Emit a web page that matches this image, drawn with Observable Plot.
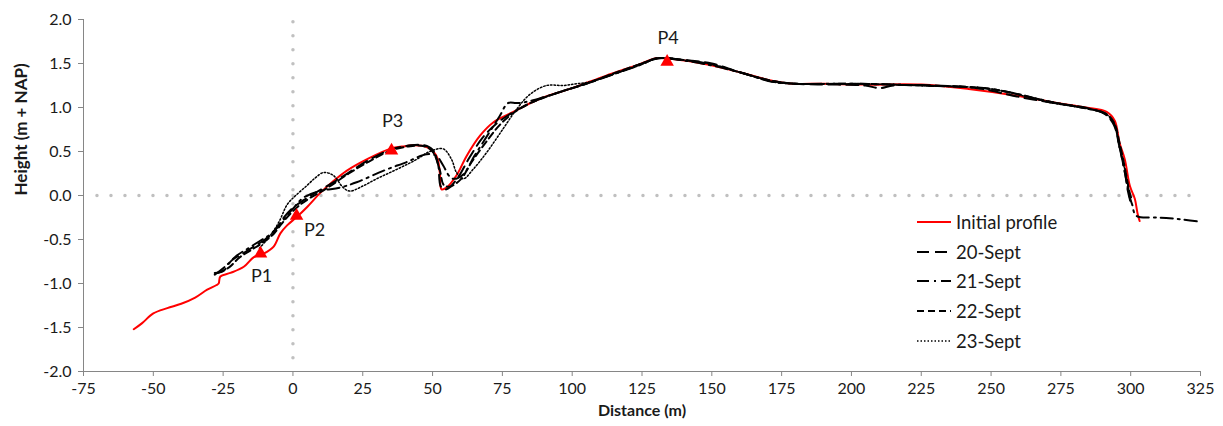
<!DOCTYPE html>
<html>
<head>
<meta charset="utf-8">
<script src="https://cdn.jsdelivr.net/npm/d3@7"></script>
<script src="https://cdn.jsdelivr.net/npm/@observablehq/plot@0.6"></script>
<style>
  html, body { margin: 0; padding: 0; background: #fff; }
  #chart { position: relative; width: 1223px; height: 426px; font-family: Lato, "Open Sans", sans-serif; }
  #legend { position: absolute; left: 916px; top: 207px; font-size: 18.5px; color: #1a1a1a; }
  #legend .row { display: flex; align-items: center; height: 29.8px; }
  #legend svg { margin-right: 4px; }
</style>
</head>
<body>
<div id="chart"><div id="legend"></div></div>
<script>
// Beach cross-shore profiles: distance (m) vs. height (m + NAP)
const initialDist = [-57, -54, -50, -45, -40, -35, -30.7, -27.5, -26.6, -26, -22.4, -17.6, -14, -10.5, -6.9, -4.5, -2.1, 1.5, 5.1, 9.8, 14, 19.2, 26.4, 34.7, 40, 43.1, 47.9, 51.4, 52.6, 53.2, 55, 58.6, 62.2, 67, 71.7, 78.9, 88.4, 100, 112, 124, 130, 136, 148, 160, 172, 179, 190, 205, 225, 242, 260, 272, 284, 291.4, 294.3, 296, 297.9, 299.7, 301.5, 302.5, 303.2];
const initialHeight = [-1.52, -1.45, -1.34, -1.28, -1.23, -1.16, -1.07, -1.02, -1.0, -0.92, -0.88, -0.81, -0.70, -0.66, -0.58, -0.43, -0.34, -0.24, -0.13, 0.03, 0.15, 0.28, 0.41, 0.53, 0.56, 0.57, 0.55, 0.45, 0.26, 0.07, 0.09, 0.23, 0.45, 0.68, 0.83, 0.95, 1.10, 1.22, 1.36, 1.49, 1.56, 1.55, 1.49, 1.40, 1.30, 1.27, 1.27, 1.26, 1.26, 1.21, 1.13, 1.06, 1.0, 0.95, 0.85, 0.6, 0.41, 0.11, -0.04, -0.21, -0.29];

const sept20Dist = [-28, -25, -22, -18, -14, -10, -6, -3, 0, 4, 8, 14, 20, 27, 35, 42, 47, 50, 52, 53, 55, 59, 63, 68, 73, 78, 85, 95, 105, 115, 125, 131, 140, 150, 160, 172, 180, 195, 205, 210, 215, 230, 245, 260, 275, 285, 291, 294, 296, 298, 299, 300];
const sept20Height = [-0.88, -0.86, -0.74, -0.66, -0.58, -0.50, -0.38, -0.24, -0.14, -0.05, 0.03, 0.14, 0.26, 0.40, 0.52, 0.57, 0.57, 0.52, 0.35, 0.10, 0.07, 0.20, 0.42, 0.66, 0.82, 0.93, 1.05, 1.17, 1.27, 1.38, 1.50, 1.56, 1.54, 1.50, 1.40, 1.30, 1.27, 1.26, 1.25, 1.22, 1.25, 1.25, 1.22, 1.12, 1.04, 0.99, 0.92, 0.80, 0.55, 0.25, 0.05, -0.08];

const sept21Dist = [-28, -24, -20, -16, -12, -8, -4, 0, 4, 9.7, 16.8, 22.8, 32.3, 40.7, 47.9, 51.4, 53.8, 56, 57.4, 61, 65, 70, 74, 77, 80, 83, 90, 100, 112, 124, 130, 136, 148, 160, 172, 180, 200, 225, 250, 272, 284, 291, 294, 296, 298, 299.5, 300.5, 302, 310, 318, 325];
const sept21Height = [-0.90, -0.80, -0.68, -0.60, -0.52, -0.44, -0.30, -0.15, -0.02, 0.05, 0.09, 0.15, 0.28, 0.38, 0.47, 0.45, 0.34, 0.22, 0.19, 0.24, 0.45, 0.70, 0.90, 1.05, 1.05, 1.06, 1.12, 1.22, 1.35, 1.48, 1.56, 1.55, 1.49, 1.40, 1.29, 1.27, 1.27, 1.25, 1.21, 1.06, 0.99, 0.93, 0.82, 0.55, 0.25, 0.0, -0.10, -0.23, -0.25, -0.27, -0.30];

const sept22Dist = [-27, -23, -19, -15, -11, -7, -4, -1, 2, 6, 12, 20, 28, 35, 42, 47, 50, 52.5, 54, 56, 60, 64, 69, 74, 79, 85, 95, 105, 115, 125, 131, 140, 150, 160, 172, 180, 200, 225, 250, 272, 284, 291, 294, 296, 298, 299.5, 300.5];
const sept22Height = [-0.88, -0.82, -0.70, -0.62, -0.54, -0.44, -0.32, -0.21, -0.12, -0.03, 0.08, 0.25, 0.40, 0.51, 0.56, 0.56, 0.50, 0.30, 0.12, 0.10, 0.18, 0.38, 0.60, 0.80, 0.94, 1.05, 1.17, 1.27, 1.39, 1.50, 1.56, 1.54, 1.49, 1.40, 1.30, 1.27, 1.27, 1.25, 1.21, 1.06, 0.99, 0.93, 0.83, 0.60, 0.30, 0.05, -0.06];

const sept23Dist = [-12, -8, -5, -2, 1, 4.9, 8, 10.9, 14.4, 18, 20.4, 25.2, 30, 34.7, 40, 44.3, 49, 53.8, 56.8, 58.6, 61, 64.6, 69.4, 75.3, 80.1, 84.9, 90.8, 96.8, 101.6, 106.3, 115, 125, 131, 140, 150, 160, 172, 180, 200, 225, 250, 272, 284, 291, 294, 296, 298, 299.5];
const sept23Height = [-0.60, -0.45, -0.30, -0.10, 0.0, 0.11, 0.20, 0.26, 0.23, 0.09, 0.05, 0.11, 0.19, 0.26, 0.34, 0.41, 0.50, 0.53, 0.41, 0.26, 0.19, 0.30, 0.49, 0.76, 0.98, 1.15, 1.25, 1.25, 1.27, 1.29, 1.38, 1.49, 1.56, 1.54, 1.49, 1.40, 1.29, 1.27, 1.27, 1.25, 1.21, 1.05, 0.99, 0.93, 0.82, 0.55, 0.28, 0.03];

// Measurement points
const pointNames = ["P1", "P2", "P3", "P4"];
const pointDist = [-11.6, 1.3, 35.3, 134];
const pointHeight = [-0.66, -0.23, 0.51, 1.52];

// Axis ticks
const xTicks = [-75, -50, -25, 0, 25, 50, 75, 100, 125, 150, 175, 200, 225, 250, 275, 300, 325];
const yTicks = [-2.0, -1.5, -1.0, -0.5, 0.0, 0.5, 1.0, 1.5, 2.0];

const seriesNames = ["Initial profile", "20-Sept", "21-Sept", "22-Sept", "23-Sept"];

const toRows = (xs, ys) => xs.map((x, i) => ({x, y: ys[i]}));
const series = [
  {name: seriesNames[0], rows: toRows(initialDist, initialHeight), stroke: "#ff0000", width: 2, dash: null},
  {name: seriesNames[1], rows: toRows(sept20Dist, sept20Height), stroke: "#000", width: 2, dash: "12 6"},
  {name: seriesNames[2], rows: toRows(sept21Dist, sept21Height), stroke: "#000", width: 2, dash: "12 5 2 5"},
  {name: seriesNames[3], rows: toRows(sept22Dist, sept22Height), stroke: "#000", width: 2, dash: "7 4"},
  {name: seriesNames[4], rows: toRows(sept23Dist, sept23Height), stroke: "#000", width: 1.5, dash: "1.5 2"}
];

const points = pointNames.map((n, i) => ({name: n, x: pointDist[i], y: pointHeight[i]}));
const labelDx = {P1: 1, P2: 18, P3: 1, P4: 1};
const labelDy = {P1: 23, P2: 14, P3: -29, P4: -24};

const axisColor = "#868686";
const zeroStyle = {stroke: "#c0c0c0", strokeWidth: 3.5, strokeDasharray: "0 14", strokeLinecap: "round"};

const plot = Plot.plot({
  width: 1223,
  height: 426,
  marginLeft: 83,
  marginRight: 23,
  marginTop: 19,
  marginBottom: 55,
  style: {fontFamily: "Lato, 'Open Sans', sans-serif", background: "#fff", overflow: "visible"},
  x: {domain: [-75, 325]},
  y: {domain: [-2, 2]},
  marks: [
    Plot.ruleY([0], {...zeroStyle, x1: -70, x2: 325}),
    Plot.ruleX([0], {...zeroStyle, y1: -1.85, y2: 2}),
    Plot.ruleX([-75], {stroke: axisColor, strokeWidth: 1}),
    Plot.ruleY([-2], {stroke: axisColor, strokeWidth: 1}),
    Plot.axisX({ticks: xTicks, tickFormat: d => String(d), tickSize: 5, tickPadding: 6, stroke: axisColor, fill: "#1a1a1a", fontSize: 16, label: null}),
    Plot.axisY({ticks: yTicks, tickFormat: d => d.toFixed(1), tickSize: 5, tickPadding: 7, stroke: axisColor, fill: "#1a1a1a", fontSize: 16, label: null}),
    ...series.map(s => Plot.line(s.rows, {
      x: "x", y: "y", stroke: s.stroke, strokeWidth: s.width,
      strokeDasharray: s.dash, curve: "catmull-rom"
    })),
    Plot.dot(points, {x: "x", y: "y", symbol: "triangle", r: 5, fill: "#ff0000", stroke: "none"}),
    ...points.map(p => Plot.text([p], {x: "x", y: "y", text: "name", dx: labelDx[p.name], dy: labelDy[p.name], fontSize: 18, fill: "#1a1a1a"})),
    Plot.text(["Height (m + NAP)"], {frameAnchor: "left", dx: -62, rotate: -90, fontWeight: "bold", fontSize: 17, fill: "#1a1a1a"}),
    Plot.text(["Distance (m)"], {frameAnchor: "bottom", dy: 44, fontWeight: "bold", fontSize: 16, fill: "#1a1a1a"})
  ]
});

const chart = document.getElementById("chart");
chart.insertBefore(plot, chart.firstChild);

// Legend drawn inside the plot area
const legend = document.getElementById("legend");
for (const s of series) {
  const row = document.createElement("div");
  row.className = "row";
  const sw = d3.create("svg").attr("width", 36).attr("height", 10);
  sw.append("line").attr("x1", 1).attr("x2", 35).attr("y1", 5).attr("y2", 5)
    .attr("stroke", s.stroke).attr("stroke-width", s.width)
    .attr("stroke-dasharray", s.dash);
  row.appendChild(sw.node());
  const label = document.createElement("span");
  label.textContent = s.name;
  row.appendChild(label);
  legend.appendChild(row);
}
</script>
</body>
</html>
